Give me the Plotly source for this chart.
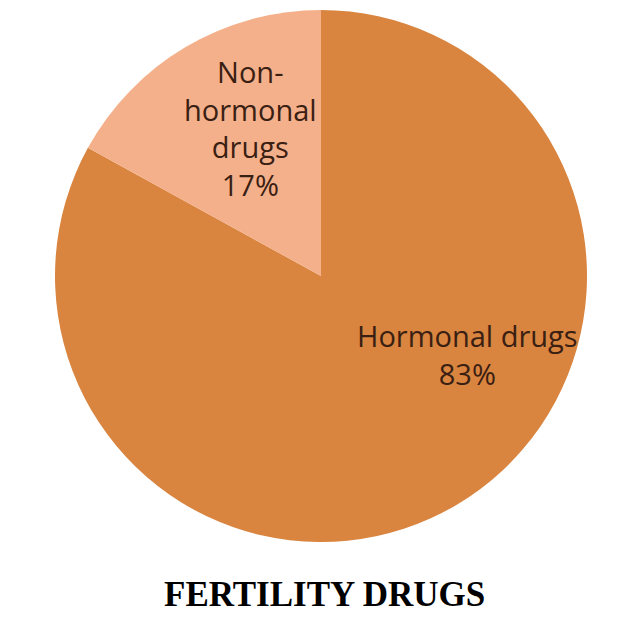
import plotly.graph_objects as go

categories = ["Hormonal drugs", "Non-hormonal drugs"]
values = [83, 17]
label_texts = ["Hormonal drugs<br>83%", "Non-<br>hormonal<br>drugs<br>17%"]
colors = ["#D9843F", "#F4B08A"]
title_text = "FERTILITY DRUGS"

# page body has an 8px margin; figure sized to fit the window
OFF = 8
W, H = 618, 612
cx, cy, r = 321 - OFF, 276 - OFF, 266  # pixel center / radius in figure coords


def px_x(p):
    return (p - OFF) / W


def px_y(p):
    return 1 - (p - OFF) / H


dom_x = [max(0, (cx - r) / W), min(1, (cx + r) / W)]
dom_y = [max(0, (H - cy - r) / H), min(1, (H - cy + r) / H)]

fig = go.Figure(go.Pie(
    labels=categories,
    values=values,
    sort=False,
    direction="clockwise",
    rotation=0,
    textinfo="none",
    hoverinfo="label+percent",
    marker=dict(colors=colors, line=dict(width=0)),
    domain=dict(x=dom_x, y=dom_y),
    showlegend=False,
))

label_pos = [(467, 354), (250, 128)]
for txt, (px, py) in zip(label_texts, label_pos):
    fig.add_annotation(
        x=px_x(px), y=px_y(py), xref="paper", yref="paper",
        xanchor="center", yanchor="middle",
        text=txt, showarrow=False, align="center",
        font=dict(family="Open Sans, Lato, sans-serif", size=29, color="#3A2012"),
    )

fig.add_annotation(
    x=px_x(324), y=px_y(594), xref="paper", yref="paper",
    xanchor="center", yanchor="middle",
    text="<b>" + title_text + "</b>", showarrow=False,
    font=dict(family="Liberation Serif, Times New Roman, serif", size=35, color="#000000"),
)

fig.update_layout(
    width=W, height=H,
    margin=dict(l=0, r=0, t=0, b=0),
    paper_bgcolor="white", plot_bgcolor="white",
)

fig.write_html("out.html")
